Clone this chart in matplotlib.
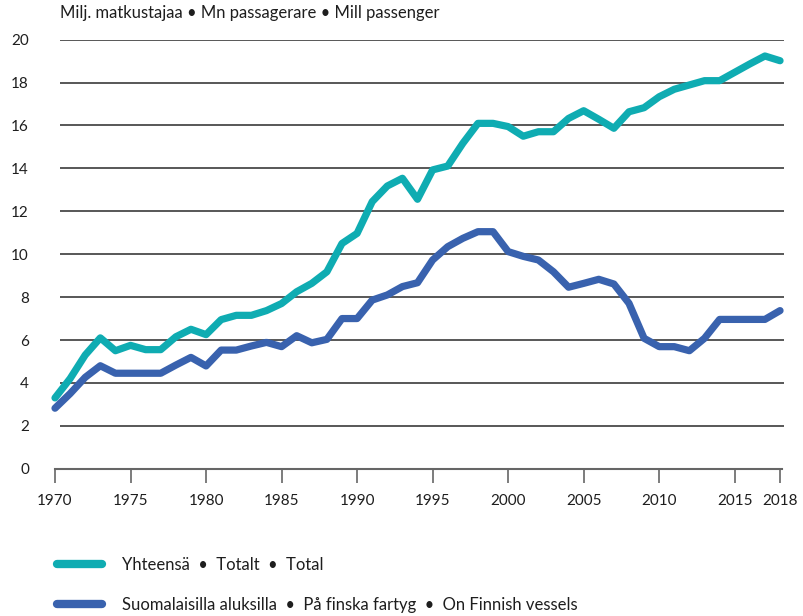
import matplotlib
matplotlib.use("Agg")
import matplotlib.pyplot as plt
import numpy as np

years = list(range(1970, 2019))
total = [3.3, 4.2, 5.3, 6.1, 5.5, 5.75, 5.55, 5.55, 6.15, 6.5,
         6.25, 6.95, 7.15, 7.15, 7.37, 7.7, 8.25, 8.64, 9.18, 10.5,
         10.97, 12.45, 13.18, 13.54, 12.56, 13.93, 14.11, 15.17, 16.1, 16.1,
         15.95, 15.5, 15.71, 15.71, 16.33, 16.69, 16.29, 15.87, 16.64, 16.83,
         17.34, 17.69, 17.89, 18.09, 18.09, 18.48, 18.87, 19.24, 19.02]
finnish = [2.82, 3.5, 4.26, 4.8, 4.45, 4.45, 4.45, 4.45, 4.83, 5.19,
           4.79, 5.53, 5.53, 5.72, 5.89, 5.69, 6.2, 5.87, 6.03, 7.0,
           7.0, 7.86, 8.1, 8.49, 8.67, 9.73, 10.35, 10.74, 11.05, 11.05,
           10.12, 9.9, 9.73, 9.18, 8.46, 8.64, 8.83, 8.61, 7.71, 6.08,
           5.69, 5.69, 5.5, 6.08, 6.96, 6.96, 6.96, 6.96, 7.37]

x_ticks = [1970, 1975, 1980, 1985, 1990, 1995, 2000, 2005, 2010, 2015, 2018]
y_ticks = list(range(0, 21, 2))

title = "Milj. matkustajaa • Mn passagerare • Mill passenger"
SEP = "\u2002•\u2002"
label_total = SEP.join(["Yhteensä", "Totalt", "Total"])
label_fin = SEP.join(["Suomalaisilla aluksilla", "På finska fartyg", "On Finnish vessels"])

TEAL = "#0FACB2"
BLUE = "#3962AE"
TXT = "#1e1e1e"

plt.rcParams['font.family'] = ['Lato', 'DejaVu Sans']

fig = plt.figure(figsize=(8.04, 6.16), dpi=100)
W, H = 804, 616
L, R = 47.45, 789.1
B, T = 468.7, 39.7
ax = fig.add_axes([L / W, (H - B) / H, (R - L) / W, (B - T) / H])
ax.set_xlim(1969.5, 2018.6)
ax.set_ylim(0, 20)

# gridlines
for yv in y_ticks[1:]:
    ax.hlines(yv, 1970.3, 2018.25, color="#2a2a2a", lw=1.1, zorder=1)

ax.plot(years, total, color=TEAL, lw=5.2, solid_capstyle='round',
        solid_joinstyle='round', label=label_total, clip_on=False, zorder=3)
ax.plot(years, finnish, color=BLUE, lw=5.2, solid_capstyle='round',
        solid_joinstyle='round', label=label_fin, clip_on=False, zorder=3)

for s in ['top', 'right', 'left']:
    ax.spines[s].set_visible(False)
ax.spines['bottom'].set_color("#666666")
ax.spines['bottom'].set_linewidth(1.5)
ax.spines['bottom'].set_bounds(1970, 2018.1)

ax.set_xticks(x_ticks)
ax.set_xticklabels([str(v) for v in x_ticks])
ax.set_yticks(y_ticks)
ax.set_yticklabels([str(v) for v in y_ticks])
ax.tick_params(axis='x', length=9.8, width=1.2, color="#666666", pad=8.5,
               labelsize=11, labelcolor=TXT)
ax.tick_params(axis='y', length=0, pad=13.3, labelsize=11, labelcolor=TXT)

fig.text(60 / W, 1 - 13 / H, title, ha='left', va='center', fontsize=12, color=TXT)

leg = fig.legend(loc='upper left', bbox_to_anchor=(57 / W, 1 - 557 / H),
                 frameon=False, fontsize=12, handlelength=2.7, handletextpad=1.2,
                 labelspacing=1.42, borderpad=0, borderaxespad=0)
for line in leg.get_lines():
    line.set_linewidth(6)
    line.set_solid_capstyle('round')
for t in leg.get_texts():
    t.set_color(TXT)

fig.savefig("out.png", dpi=100)
